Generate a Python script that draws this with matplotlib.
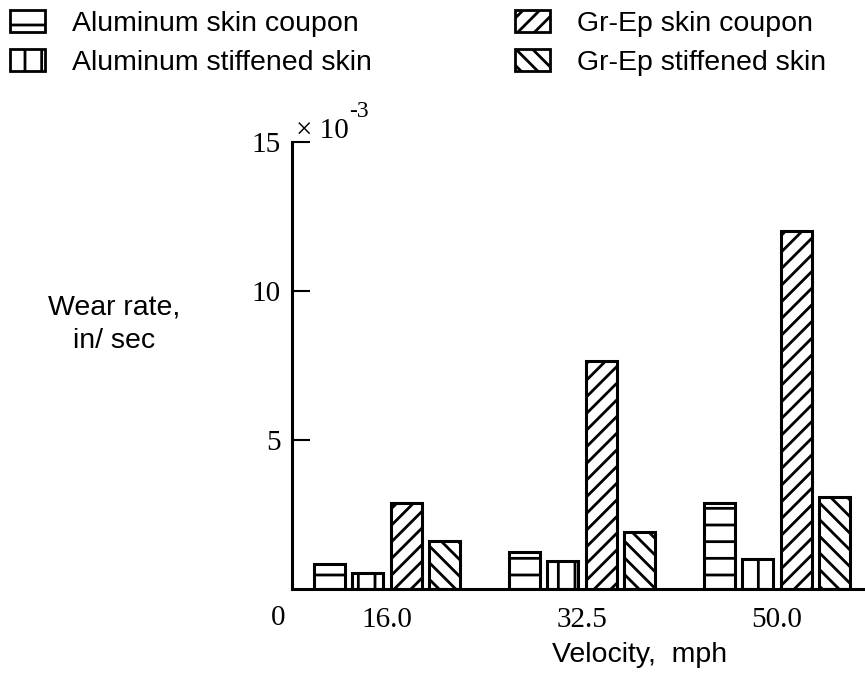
import numpy as np
import matplotlib
matplotlib.use("Agg")
import matplotlib.pyplot as plt
from matplotlib.patches import Patch

# wear rate, x 10^-3 in/sec
velocities = ["16.0", "32.5", "50.0"]
al_coupon = [0.85, 1.25, 2.9]
al_stiffened = [0.55, 0.95, 1.0]
grep_coupon = [2.9, 7.65, 12.0]
grep_stiffened = [1.6, 1.9, 3.1]

series = [
    ("Aluminum skin coupon", al_coupon, "-"),
    ("Aluminum stiffened skin", al_stiffened, "|"),
    ("Gr-Ep skin coupon", grep_coupon, "//"),
    ("Gr-Ep stiffened skin", grep_stiffened, "\\\\"),
]

plt.rcParams["hatch.linewidth"] = 2.0
plt.rcParams["hatch.color"] = "black"
sans = ["Liberation Sans", "DejaVu Sans"]
serif = ["Liberation Serif", "DejaVu Serif"]

fig = plt.figure(figsize=(8.65, 6.87), dpi=100)
ax = fig.add_axes([292 / 865, 1 - 589 / 687, 1 - 292 / 865, 447 / 687])

x = np.arange(len(velocities))
pitch = 0.197
width = 0.159
handles = []
for i, (name, vals, hatch) in enumerate(series):
    ax.bar(x + (i - 1.5) * pitch, vals, width=width, facecolor="white",
           edgecolor="black", linewidth=2.2, hatch=hatch)
    handles.append(Patch(facecolor="white", edgecolor="black",
                         linewidth=2.0, hatch=hatch, label=name))

ax.set_xlim(-0.487, 2.451)
ax.set_ylim(0, 15)
for side in ["top", "right"]:
    ax.spines[side].set_visible(False)
ax.spines["left"].set_linewidth(2.2)
ax.spines["bottom"].set_linewidth(2.2)

ax.set_yticks([5, 10, 15])
ax.set_yticklabels(["5", "10", "15"], family=serif, fontsize=21)
ax.tick_params(axis="y", direction="in", length=13, width=1.5, pad=8)
ax.set_xticks(x)
ax.set_xticklabels(velocities, family=serif, fontsize=21)
ax.tick_params(axis="x", length=0, pad=13)

ax.annotate("0", xy=(0, 0), xycoords="axes fraction", xytext=(-10, -21),
            textcoords="offset points", ha="center", va="center",
            family=serif, fontsize=21)

fig.text(296 / 865, 1 - 138 / 687, "\u00d7 10", family=serif, fontsize=21,
         ha="left", va="baseline")
fig.text(349 / 865, 1 - 117 / 687, "-3", family=serif, fontsize=17,
         ha="left", va="baseline")

fig.text(114 / 865, 1 - 324 / 687, "Wear rate,\nin/ sec", family=sans,
         fontsize=20.5, ha="center", va="center", multialignment="center",
         linespacing=1.35)
fig.text(640 / 865, 1 - 655 / 687, "Velocity,  mph", family=sans,
         fontsize=20.5, ha="center", va="center")

leg_kw = dict(frameon=False, handlelength=1.22, handleheight=0.8,
              handletextpad=0.95, labelspacing=0.42, borderpad=0,
              borderaxespad=0, loc="upper left",
              prop={"family": sans, "size": 20.5})
leg1 = fig.legend(handles=handles[:2], bbox_to_anchor=(10 / 865, 1 - 10 / 687),
                  **leg_kw)
leg2 = fig.legend(handles=handles[2:], bbox_to_anchor=(515 / 865, 1 - 10 / 687),
                  **leg_kw)

fig.savefig("out.png", dpi=100)
